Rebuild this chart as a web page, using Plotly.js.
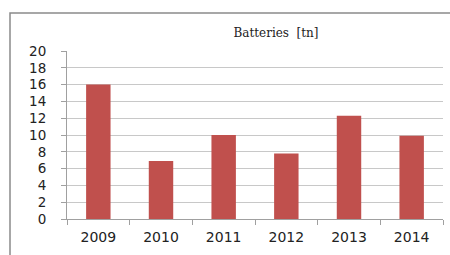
<!DOCTYPE html>
<html><head><meta charset="utf-8">
<script src="https://cdn.plot.ly/plotly-3.0.1.min.js"></script>
<style>html,body{margin:0;padding:0;background:#fff;}#c{width:450px;height:255px;}</style>
</head><body><div id="c"></div>
<script>
const years = ['2009','2010','2011','2012','2013','2014'];
const values = [16, 6.9, 10.0, 7.8, 12.3, 9.9];
const yTicks = [0,2,4,6,8,10,12,14,16,18,20];

const px = v => (v-67)/376, py = v => (219-v)/168;
Plotly.newPlot('c', [{
  type:'bar', x: years, y: values,
  marker:{color:'#c0504d'}, hoverinfo:'none'
}], {
  width:450, height:255,
  margin:{l:67, r:7, t:51, b:36},
  paper_bgcolor:'#fff', plot_bgcolor:'#fff',
  bargap:0.61,
  showlegend:false,
  title:{text:'Batteries  [tn]', font:{family:'DejaVu Serif', size:12, color:'#222'},
    x:276/450, xanchor:'center', y:1-33/255, yanchor:'middle'},
  xaxis:{type:'category', showline:true, linecolor:'#a0a0a0', linewidth:1,
    ticks:'outside', tickson:'boundaries', ticklen:5, tickcolor:'#a0a0a0',
    ticklabelstandoff:5,
    tickfont:{family:'DejaVu Sans', size:14, color:'#222'}, showgrid:false},
  yaxis:{range:[0,20], tickvals:yTicks, showline:true, linecolor:'#a0a0a0', linewidth:1,
    ticks:'outside', ticklen:5, tickcolor:'#a0a0a0', gridcolor:'#c8c8c8', gridwidth:1,
    ticklabelstandoff:12,
    zeroline:false, tickfont:{family:'DejaVu Sans', size:13.5, color:'#222'}},
  shapes:[{type:'path', xref:'paper', yref:'paper',
    path:`M ${px(10)} ${py(258)} L ${px(10)} ${py(13)} L ${px(452)} ${py(13)}`,
    line:{color:'#8a8a8a', width:1.5}}]
}, {staticPlot:true});
</script></body></html>
